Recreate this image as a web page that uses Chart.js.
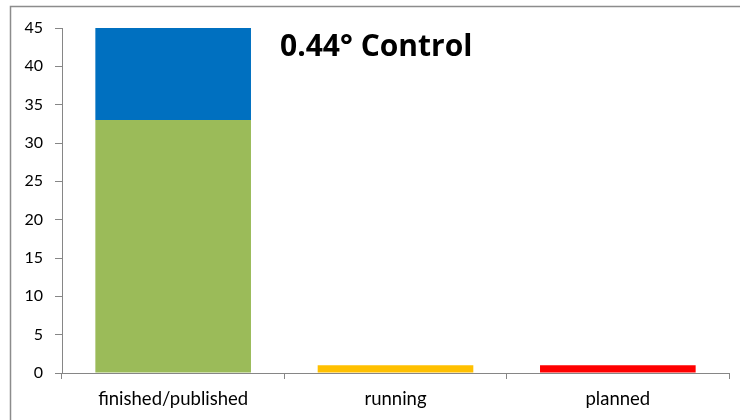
<!DOCTYPE html>
<html>
<head>
<meta charset="utf-8">
<script src="https://cdn.jsdelivr.net/npm/chart.js@4/dist/chart.umd.min.js"></script>
<style>
html,body{margin:0;padding:0;background:#fff;}
#wrap{position:relative;width:740px;height:420px;}
</style>
</head>
<body>
<div id="wrap"><canvas id="c" width="740" height="420"></canvas></div>
<script>
const categories = ["finished/published", "running", "planned"];
const baseValues = [33, 1, 1];
const topValues = [12, 0, 0];
const baseColors = ["#9BBB59", "#FFC000", "#FF0000"];
const topColors = ["#0070C0", "#0070C0", "#0070C0"];
const yTicks = [0, 5, 10, 15, 20, 25, 30, 35, 40, 45];
const titleText = "0.44° Control";

const FONT = "Lato, 'Open Sans', sans-serif";

const frame = {
  id: 'frame',
  beforeDraw(chart) {
    const ctx = chart.ctx;
    ctx.save();
    ctx.strokeStyle = '#8c8c8c';
    ctx.lineWidth = 1.5;
    ctx.strokeRect(10.5, 6.5, 900, 600);
    ctx.restore();
  },
  afterDraw(chart) {
    const ctx = chart.ctx;
    ctx.save();
    ctx.fillStyle = '#000';
    ctx.font = "bold 30px 'Open Sans', Lato, sans-serif";
    ctx.textBaseline = 'alphabetic';
    ctx.fillText(titleText, 280, 56);
    ctx.restore();
  }
};

new Chart(document.getElementById('c'), {
  type: 'bar',
  data: {
    labels: categories,
    datasets: [
      { data: baseValues, backgroundColor: baseColors, borderWidth: 0 },
      { data: topValues, backgroundColor: topColors, borderWidth: 0 }
    ]
  },
  options: {
    responsive: false,
    animation: false,
    devicePixelRatio: 1,
    layout: { padding: { left: 0, top: 28, right: 11, bottom: 0 } },
    plugins: { legend: { display: false }, tooltip: { enabled: false } },
    datasets: { bar: { categoryPercentage: 1.0, barPercentage: 0.7 } },
    scales: {
      x: {
        stacked: true,
        afterFit(s) { s.height = 47; },
        grid: { offset: true, drawOnChartArea: false, tickLength: 6, color: '#868686', lineWidth: 1 },
        border: { color: '#868686', width: 1 },
        ticks: { color: '#000', font: { family: FONT, size: 18.5 }, padding: 9, maxRotation: 0 }
      },
      y: {
        stacked: true,
        min: 0, max: 45,
        afterFit(s) { s.width = 62; },
        afterBuildTicks(s) { s.ticks = yTicks.map(v => ({ value: v })); },
        grid: { drawOnChartArea: false, tickLength: 7, color: '#868686', lineWidth: 1 },
        border: { color: '#868686', width: 1 },
        ticks: { color: '#000', font: { family: FONT, size: 16 }, padding: 12 }
      }
    }
  },
  plugins: [frame]
});
</script>
</body>
</html>
